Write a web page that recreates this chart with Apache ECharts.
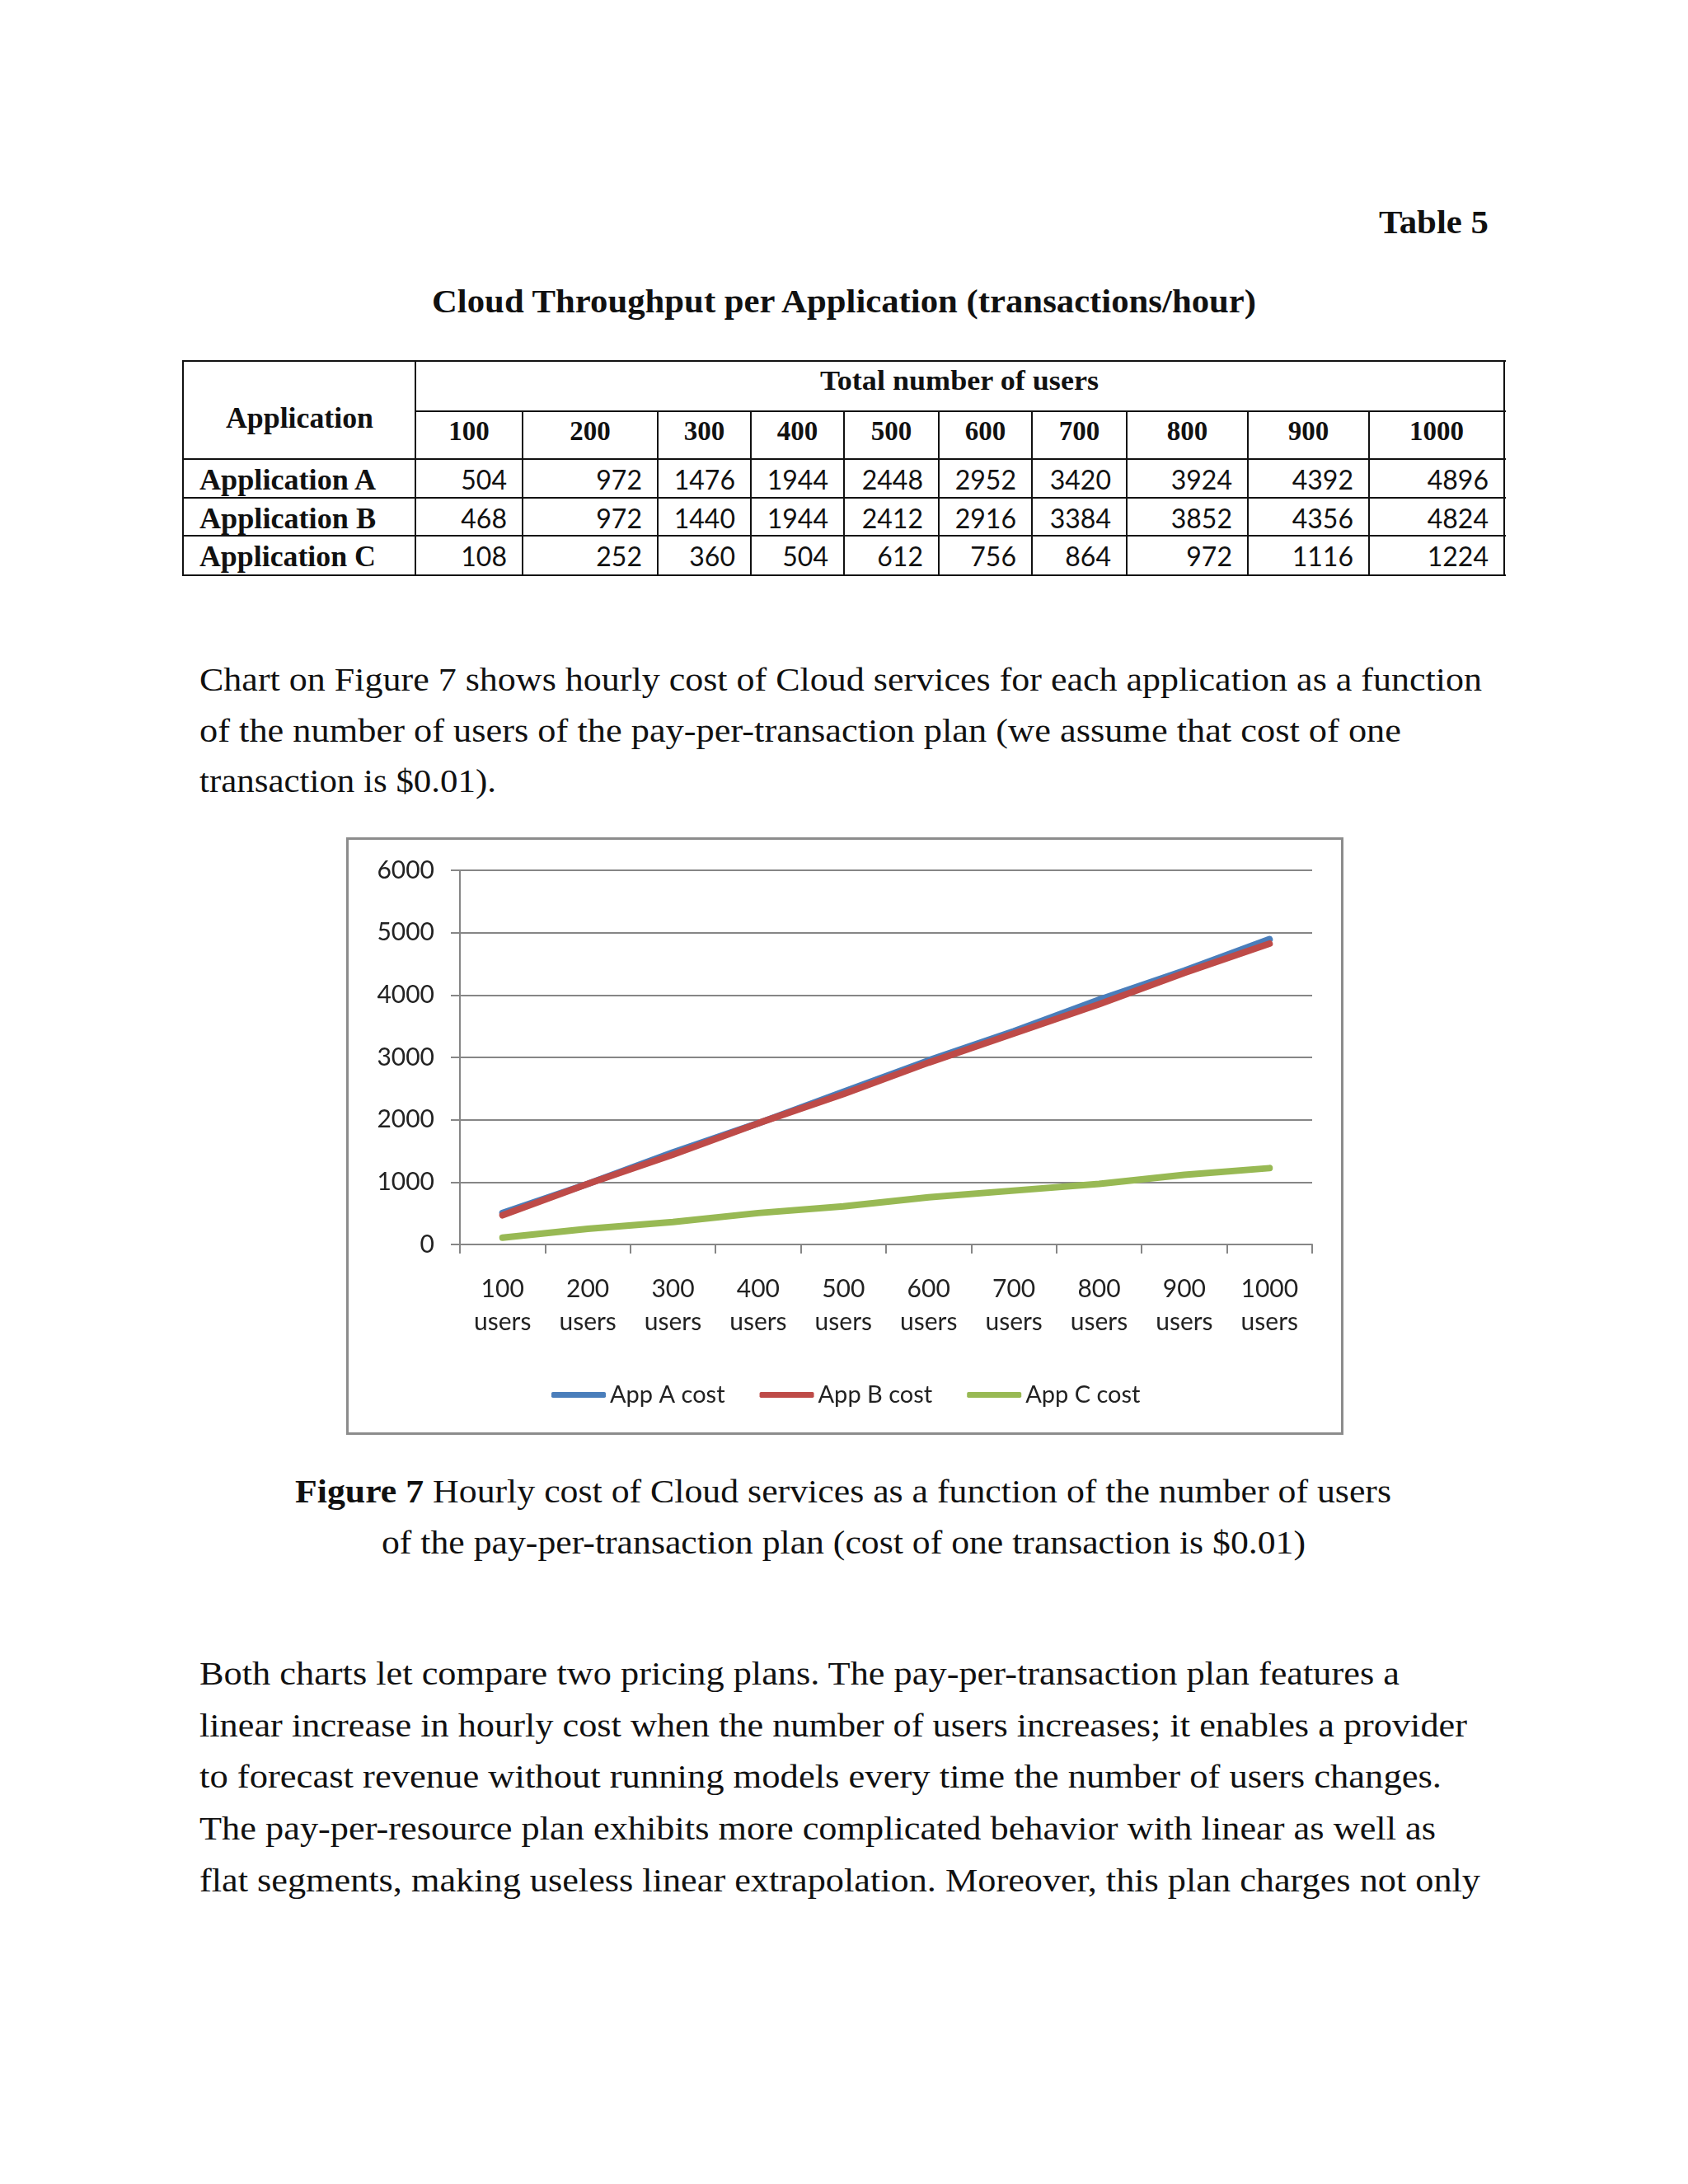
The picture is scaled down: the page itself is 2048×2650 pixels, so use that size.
<!DOCTYPE html>
<html><head><meta charset="utf-8">
<script src="https://cdn.jsdelivr.net/npm/echarts@6/dist/echarts.min.js"></script>
<style>
html,body{margin:0;padding:0;background:#fff;}
#page{position:relative;width:2048px;height:2650px;overflow:hidden;background:#fff;}
.t{position:absolute;white-space:nowrap;line-height:1;color:#111;transform-origin:0 0;}
.hl{position:absolute;background:#111;height:2px;}
.vl{position:absolute;background:#111;width:2px;}
#frame{position:absolute;left:420px;top:1016px;width:1210px;height:725px;box-sizing:border-box;border:3px solid #8c8c8c;}
#chart{position:absolute;left:422px;top:1018px;width:1206px;height:721px;}
</style></head><body><div id="page"><div id="chart"></div><div id="frame"></div></div>
<script>
// ---- data ----
const users = [100, 200, 300, 400, 500, 600, 700, 800, 900, 1000];
const userTickLabels = ['100\nusers', '200\nusers', '300\nusers', '400\nusers', '500\nusers',
  '600\nusers', '700\nusers', '800\nusers', '900\nusers', '1000\nusers'];
const appA = [504, 972, 1476, 1944, 2448, 2952, 3420, 3924, 4392, 4896];
const appB = [468, 972, 1440, 1944, 2412, 2916, 3384, 3852, 4356, 4824];
const appC = [108, 252, 360, 504, 612, 756, 864, 972, 1116, 1224];
const rowNames = ['Application A', 'Application B', 'Application C'];
const seriesNames = ['App A cost', 'App B cost', 'App C cost'];

// ---- page text helpers ----
const page = document.getElementById('page');
const SERIF = '"Liberation Serif", "Times New Roman", serif';
const SANS = 'Lato, "Open Sans", sans-serif';
const ASC = { serif: 0.8375, sans: 0.88 };
function text(html, opt) {
  const el = document.createElement('div');
  el.className = 't';
  el.innerHTML = html;
  const size = opt.size;
  el.style.fontSize = size + 'px';
  el.style.fontFamily = opt.sans ? SANS : SERIF;
  if (opt.bold) el.style.fontWeight = 'bold';
  page.appendChild(el);
  const base = opt.sans ? ASC.sans : ASC.serif;
  el.style.top = (opt.baseline - base * size) + 'px';
  const w = el.getBoundingClientRect().width;
  let sx = 1;
  if (opt.x0 !== undefined && opt.x1 !== undefined) { sx = (opt.x1 - opt.x0) / w; el.style.left = opt.x0 + 'px'; }
  else if (opt.align === 'center') el.style.left = (opt.x - w / 2) + 'px';
  else if (opt.align === 'right') el.style.left = (opt.x - w) + 'px';
  else el.style.left = opt.x + 'px';
  if (sx !== 1) el.style.transform = 'scaleX(' + sx + ')';
  return el;
}
function hline(x0, x1, y) { const d = document.createElement('div'); d.className = 'hl'; d.style.left = x0 + 'px'; d.style.width = (x1 - x0 + 2) + 'px'; d.style.top = (y - 1) + 'px'; page.appendChild(d); }
function vline(x, y0, y1) { const d = document.createElement('div'); d.className = 'vl'; d.style.left = (x - 1) + 'px'; d.style.top = y0 - 1 + 'px'; d.style.height = (y1 - y0 + 2) + 'px'; page.appendChild(d); }

// heading
text('Table 5', { size: 40, bold: true, baseline: 283, x0: 1673, x1: 1806 });
text('Cloud Throughput per Application (transactions/hour)', { size: 40, bold: true, baseline: 379, x0: 524, x1: 1524 });

// table geometry
const colX = [222, 504, 634, 798, 911, 1024, 1139, 1252, 1367, 1514, 1661, 1825];
[438, 557, 604, 650, 698].forEach(y => hline(222, 1825, y));
hline(504, 1825, 499);
[222, 504, 1825].forEach(x => vline(x, 438, 698));
colX.slice(2, 11).forEach(x => vline(x, 499, 698));

text('Application', { size: 36, bold: true, baseline: 519, x0: 274, x1: 453 });
text('Total number of users', { size: 34, bold: true, baseline: 473, x0: 995, x1: 1333 });
users.forEach((u, i) => {
  text(String(u), { size: 33, bold: true, baseline: 535, align: 'center', x: (colX[i + 1] + colX[i + 2]) / 2 });
});
const rows = [appA, appB, appC];
const rowBase = [594, 641, 687];
rowNames.forEach((n, r) => {
  text(n, { size: 36, bold: true, baseline: rowBase[r], x0: 242, x1: 456 });
  rows[r].forEach((v, i) => {
    text(String(v), { size: 32, sans: true, baseline: rowBase[r], align: 'right', x: colX[i + 2] - 19 });
  });
});

// paragraph 1
const P = 41;
text('Chart on Figure 7 shows hourly cost of Cloud services for each application as a function', { size: P, baseline: 838, x0: 242, x1: 1798 });
text('of the number of users of the pay-per-transaction plan (we assume that cost of one', { size: P, baseline: 900, x0: 242, x1: 1700 });
text('transaction is $0.01).', { size: P, baseline: 961, x0: 242, x1: 602 });

// caption
text('<b>Figure 7</b> Hourly cost of Cloud services as a function of the number of users', { size: P, baseline: 1823, x0: 358, x1: 1688 });
text('of the pay-per-transaction plan (cost of one transaction is $0.01)', { size: P, baseline: 1885, x0: 463, x1: 1584 });

// paragraph 2
const p2 = [
  ['Both charts let compare two pricing plans. The pay-per-transaction plan features a', 1698],
  ['linear increase in hourly cost when the number of users increases; it enables a provider', 1780],
  ['to forecast revenue without running models every time the number of users changes.', 1749],
  ['The pay-per-resource plan exhibits more complicated behavior with linear as well as', 1742],
  ['flat segments, making useless linear extrapolation. Moreover, this plan charges not only', 1796]
];
const p2Base = [2044, 2107, 2169, 2232, 2295];
p2.forEach((l, i) => text(l[0], { size: P, baseline: p2Base[i], x0: 242, x1: l[1] }));

// ---- chart ----
const chart = echarts.init(document.getElementById('chart'), null, { renderer: 'canvas' });
const gray = '#868686';
const colors = ['#4a7ebb', '#be4b48', '#98b954'];
chart.setOption({
  animation: false,
  color: colors,
  textStyle: { fontFamily: SANS, color: '#111' },
  grid: { left: 136, right: 36, top: 38, bottom: 229 },
  xAxis: {
    type: 'category', data: userTickLabels, boundaryGap: true,
    axisLine: { lineStyle: { color: gray, width: 2 } },
    axisTick: { show: true, length: 11, interval: 0, alignWithLabel: false, lineStyle: { color: gray, width: 2 } },
    axisLabel: { interval: 0, fontSize: 30, lineHeight: 40, margin: 34, color: '#222', fontFamily: SANS }
  },
  yAxis: {
    type: 'value', min: 0, max: 6000, interval: 1000,
    axisLine: { show: true, lineStyle: { color: gray, width: 2 } },
    axisTick: { show: true, length: 11, lineStyle: { color: gray, width: 2 } },
    splitLine: { show: true, lineStyle: { color: gray, width: 2 } },
    axisLabel: { fontSize: 30, margin: 31, color: '#222', fontFamily: SANS, formatter: v => String(v) }
  },
  legend: {
    data: seriesNames, left: 242, top: 655, itemWidth: 66, itemHeight: 7, itemGap: 42,
    icon: 'roundRect',
    textStyle: { fontSize: 29, color: '#222', fontFamily: SANS }
  },
  series: [appA, appB, appC].map((d, i) => ({
    name: seriesNames[i], type: 'line', data: d, symbol: 'none', smooth: false,
    lineStyle: { width: 8, color: colors[i], cap: 'round', join: 'round' },
    itemStyle: { color: colors[i] }
  }))
});
</script></body></html>
